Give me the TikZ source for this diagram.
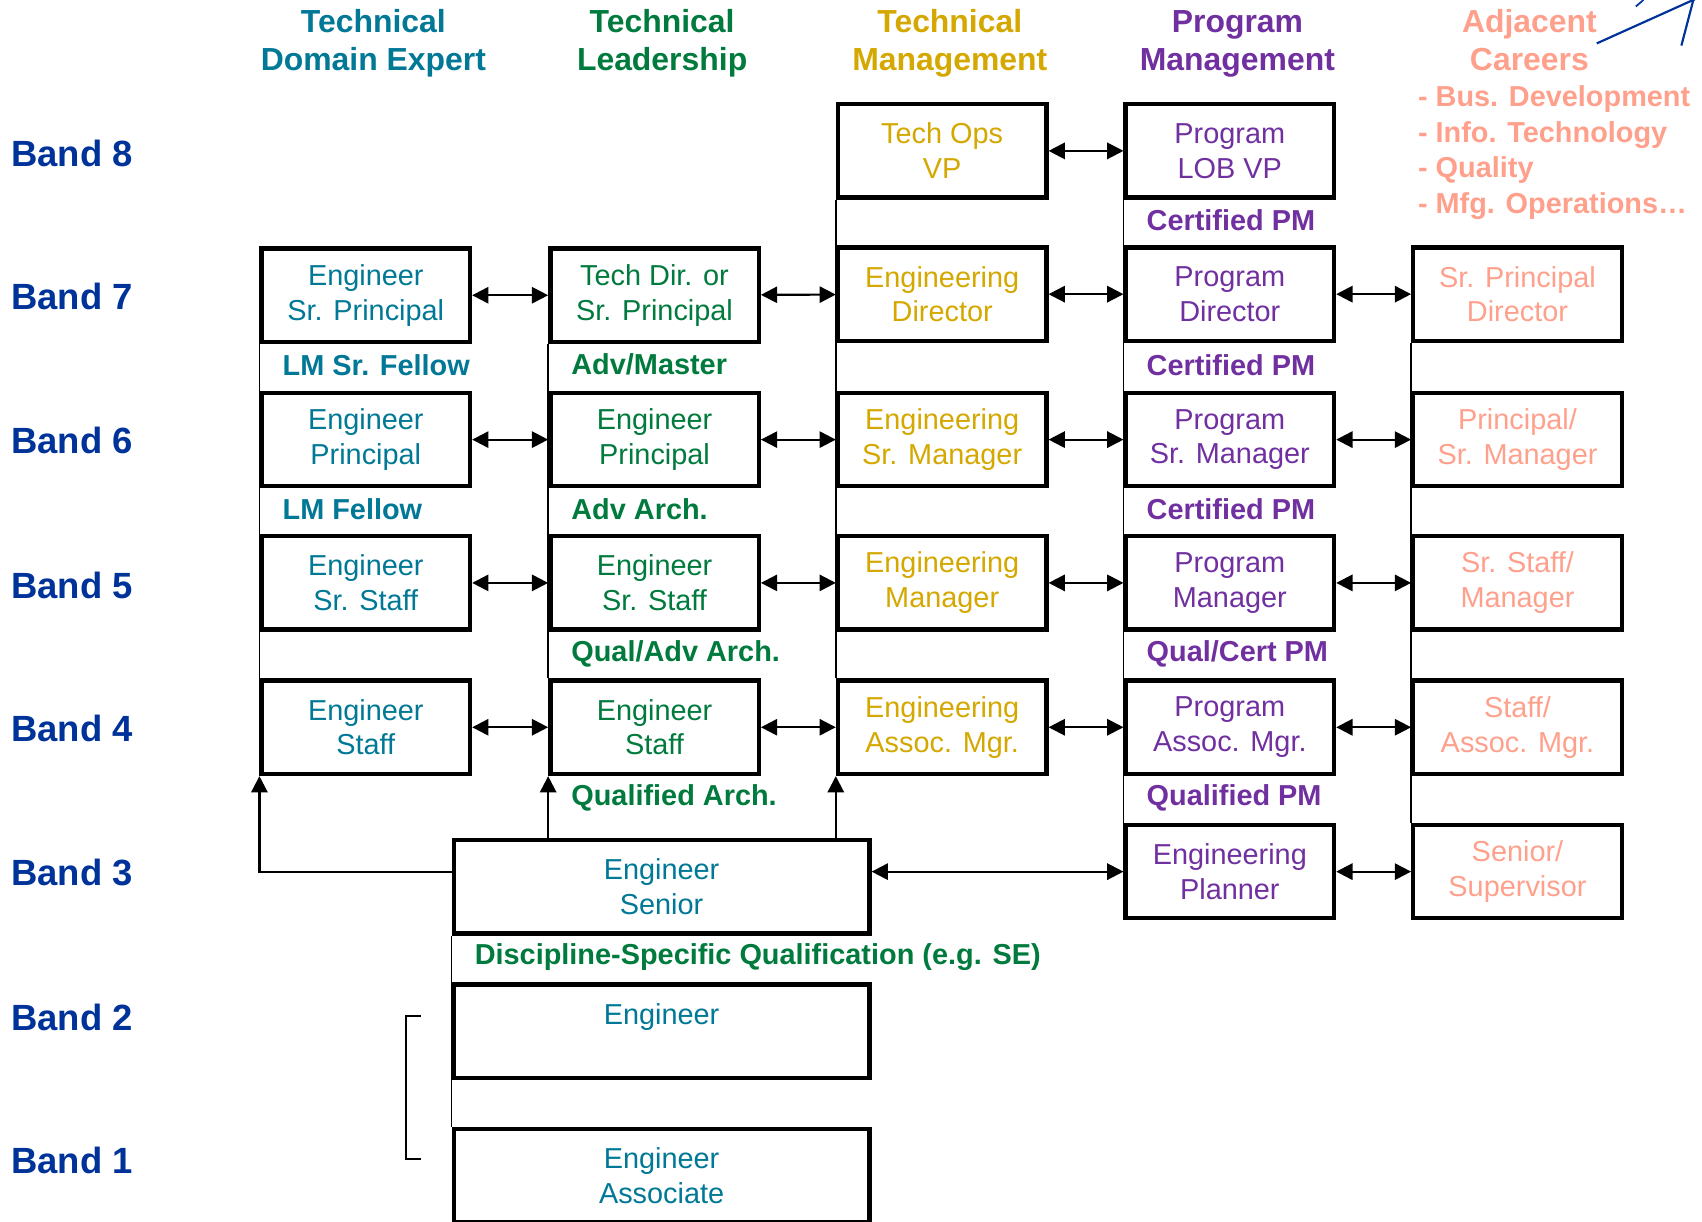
\documentclass[tikz,border=0pt]{standalone}
\usepackage{fontspec}
\setmainfont{Liberation Sans}
\usetikzlibrary{arrows.meta,calc}
\definecolor{bandblue}{RGB}{0,51,153}
\definecolor{cteal}{RGB}{0,120,150}
\definecolor{cgreen}{RGB}{0,122,61}
\definecolor{cgold}{RGB}{212,168,0}
\definecolor{cpurple}{RGB}{112,48,160}
\definecolor{csalmon}{RGB}{255,160,140}
\begin{document}
\begin{tikzpicture}[x=0.5pt,y=-0.5pt,
  box/.style={draw=black, line width=2pt, minimum width=96pt, minimum height=43pt, inner sep=0pt, align=center, font=\fontsize{13.3}{16}\selectfont},
  widebox/.style={box, minimum width=191.5pt},
  bandlbl/.style={anchor=west, inner sep=0pt, text=bandblue, font=\fontsize{16.8}{20}\bfseries},
  header/.style={inner sep=0pt, align=center, font=\fontsize{14.7}{17.5}\selectfont\bfseries},
  qual/.style={anchor=west, inner sep=0pt, font=\fontsize{13.3}{16}\selectfont\bfseries},
  adj/.style={anchor=west, inner sep=0pt, text=csalmon, font=\fontsize{13.3}{16}\selectfont\bfseries},
  thinline/.style={line width=0.8pt, draw=black},
  dbl/.style={line width=1pt, {Triangle[length=7.5pt,width=7.5pt]}-{Triangle[length=7.5pt,width=7.5pt]}},
  upar/.style={line width=1pt, -{Triangle[length=7.5pt,width=7.5pt]}}
]
\useasboundingbox (0,0) rectangle (1568,1125);

% headers
\node[header, text=cteal] (h1) at (344,40) {Technical\\Domain Expert};
\node[header, text=cgreen] (h2) at (610,40) {Technical\\Leadership};
\node[header, text=cgold] (h3) at (875,40) {Technical\\Management};
\node[header, text=cpurple] (h4) at (1140,40) {Program\\Management};
\node[header, text=csalmon] (h5) at (1409,37) {Adjacent\\Careers};

\node[adj] (a1) at (1306,91) {- Bus. Development};
\node[adj] (a2) at (1306,124) {- Info. Technology};
\node[adj] (a3) at (1306,157) {- Quality};
\node[adj] (a4) at (1306,190) {- Mfg. Operations…};

% band labels
\node[bandlbl] (L8) at (10,141) {Band 8};
\node[bandlbl] (L7) at (10,273) {Band 7};
\node[bandlbl] (L6) at (10,406) {Band 6};
\node[bandlbl] (L5) at (10,539) {Band 5};
\node[bandlbl] (L4) at (10,671) {Band 4};
\node[bandlbl] (L3) at (10,804) {Band 3};
\node[bandlbl] (L2) at (10,937) {Band 2};
\node[bandlbl] (L1) at (10,1069) {Band 1};

% band 8
\node[box, text=cgold] (c3b8) at (868,139) {Tech Ops\\VP};
\node[box, text=cpurple] (c4b8) at (1133,139) {Program\\LOB VP};
% band 7
\node[box, text=cteal] (c1b7) at (337,272) {Engineer\\Sr. Principal};
\node[box, text=cgreen] (c2b7) at (603,272) {Tech Dir. or\\Sr. Principal};
\node[box, text=cgold] (c3b7) at (868,271) {Engineering\\Director};
\node[box, text=cpurple] (c4b7) at (1133,271) {Program\\Director};
\node[box, text=csalmon] (c5b7) at (1398,271) {Sr. Principal\\Director};
% band 6
\node[box, text=cteal] (c1b6) at (337,405) {Engineer\\Principal};
\node[box, text=cgreen] (c2b6) at (603,405) {Engineer\\Principal};
\node[box, text=cgold] (c3b6) at (868,405) {Engineering\\Sr. Manager};
\node[box, text=cpurple] (c4b6) at (1133,405) {Program\\Sr. Manager};
\node[box, text=csalmon] (c5b6) at (1398,405) {Principal/\\Sr. Manager};
% band 5
\node[box, text=cteal] (c1b5) at (337,537) {Engineer\\Sr. Staff};
\node[box, text=cgreen] (c2b5) at (603,537) {Engineer\\Sr. Staff};
\node[box, text=cgold] (c3b5) at (868,537) {Engineering\\Manager};
\node[box, text=cpurple] (c4b5) at (1133,537) {Program\\Manager};
\node[box, text=csalmon] (c5b5) at (1398,537) {Sr. Staff/\\Manager};
% band 4
\node[box, text=cteal] (c1b4) at (337,670) {Engineer\\Staff};
\node[box, text=cgreen] (c2b4) at (603,670) {Engineer\\Staff};
\node[box, text=cgold] (c3b4) at (868,670) {Engineering\\Assoc. Mgr.};
\node[box, text=cpurple] (c4b4) at (1133,670) {Program\\Assoc. Mgr.};
\node[box, text=csalmon] (c5b4) at (1398,670) {Staff/\\Assoc. Mgr.};
% band 3
\node[widebox, text=cteal] (sen) at (609.5,817) {Engineer\\Senior};
\node[box, text=cpurple] (c4b3) at (1133,803) {Engineering\\Planner};
\node[box, text=csalmon] (c5b3) at (1398,803) {Senior/\\Supervisor};
% band 2, 1
\node[widebox, text=cteal] (eng) at (609.5,950) {Engineer\\\mbox{}};
\node[widebox, text=cteal] (asc) at (609.5,1083) {Engineer\\Associate};

% qualification labels
\node[qual, text=cpurple] (q84) at (1056,203) {Certified PM};
\node[qual, text=cteal] (q71) at (260,336) {LM Sr. Fellow};
\node[qual, text=cgreen] (q72) at (526,336) {Adv/Master};
\node[qual, text=cpurple] (q74) at (1056,336) {Certified PM};
\node[qual, text=cteal] (q61) at (260,469) {LM Fellow};
\node[qual, text=cgreen] (q62) at (526,469) {Adv Arch.};
\node[qual, text=cpurple] (q64) at (1056,469) {Certified PM};
\node[qual, text=cgreen] (q52) at (526,602) {Qual/Adv Arch.};
\node[qual, text=cpurple] (q54) at (1056,602) {Qual/Cert PM};
\node[qual, text=cgreen] (q42) at (526,735) {Qualified Arch.};
\node[qual, text=cpurple] (q44) at (1056,735) {Qualified PM};
\node[qual, text=cgreen] (q3) at (437,882) {Discipline-Specific Qualification (e.g. SE)};

% thin vertical column lines
\draw[thinline] (c1b7.south west) -- (c1b4.north west);
\draw[thinline] (c2b7.south west) -- (c2b4.north west);
\draw[thinline] (c3b8.south west) -- (c3b4.north west);
\draw[thinline] (c4b8.south west) -- (c4b3.north west);
\draw[thinline] (c5b7.south west) -- (c5b3.north west);
\draw[thinline] (sen.south west) -- (asc.north west);

% horizontal double arrows
\draw[dbl] (c3b8) -- (c4b8);
\foreach \r in {7,6,5,4}{
  \draw[dbl] (c1b\r) -- (c2b\r);
  \draw[dbl] (c2b\r) -- (c3b\r);
  \draw[dbl] (c3b\r) -- (c4b\r);
  \draw[dbl] (c4b\r) -- (c5b\r);
}
\draw[dbl] (sen.east |- c4b3.west) -- (c4b3.west);
\draw[dbl] (c4b3) -- (c5b3);

% upward arrows from senior
\draw[upar] (sen.west |- c4b3.west) -| (c1b4.south west);
\draw[upar] (sen.north -| c2b4.south west) -- (c2b4.south west);
\draw[upar] (sen.north -| c3b4.south west) -- (c3b4.south west);

% bracket
\coordinate (br1) at (388,936);
\coordinate (br2) at (388,1068);
\draw[thinline] (br1) -- ++(-14,0) |- (br2);

% blue lines top right
\draw[bandblue, line width=1pt] (1471,40) -- (1562,-1);
\draw[bandblue, line width=1pt] (1549,42) -- (1560,0);
\draw[bandblue, line width=0.8pt] (1507,6) -- (1514,0);
\end{tikzpicture}
\end{document}
